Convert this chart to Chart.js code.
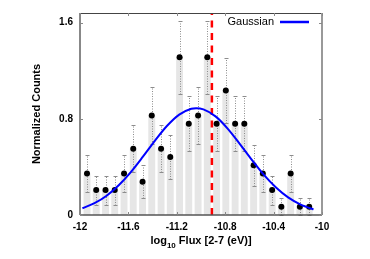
<!DOCTYPE html>
<html><head><meta charset="utf-8">
<script src="https://cdn.jsdelivr.net/npm/chart.js@4/dist/chart.umd.min.js"></script>
<style>html,body{margin:0;padding:0;background:#fff;}#wrap{width:370px;height:259px;}</style>
</head><body><div id="wrap"><canvas id="c" width="370" height="259"></canvas></div>
<script>
// ---- data ----
const binCenters = [-11.942,-11.866,-11.789,-11.713,-11.636,-11.560,-11.483,-11.407,-11.330,-11.254,
  -11.177,-11.101,-11.024,-10.948,-10.871,-10.795,-10.718,-10.642,-10.565,-10.489,
  -10.412,-10.336,-10.259,-10.183,-10.106];
const counts = [0.345,0.207,0.207,0.207,0.345,0.552,0.276,0.828,0.552,0.483,
  1.311,0.759,0.828,1.311,0.759,1.035,0.759,0.759,0.414,0.345,
  0.207,0.069,0.345,0.069,0.069];
const errors = [0.154,0.120,0.120,0.120,0.154,0.195,0.138,0.239,0.195,0.183,
  0.301,0.229,0.239,0.301,0.229,0.267,0.229,0.229,0.169,0.154,
  0.120,0.069,0.154,0.069,0.069];
const fitX = [-11.98,-11.88,-11.78,-11.68,-11.58,-11.48,-11.38,-11.28,-11.18,-11.08,-11.04,
  -10.98,-10.88,-10.78,-10.68,-10.58,-10.48,-10.38,-10.28,-10.18,-10.08,-10.07];
const fitY = [0.056,0.098,0.160,0.247,0.357,0.485,0.619,0.742,0.835,0.884,0.888,
  0.878,0.820,0.719,0.592,0.459,0.333,0.228,0.146,0.088,0.050,0.047];
const refLine = -10.91;
const xTicks = [-12,-11.6,-11.2,-10.8,-10.4,-10];
const xTickLabels = ['-12','-11.6','-11.2','-10.8','-10.4','-10'];
const yTicks = [0,0.8,1.6];
const yTickLabels = ['0','0.8','1.6'];
const fitLabel = 'Gaussian';
const yTitle = 'Normalized Counts';
const xTitleParts = ['log','10',' Flux [2-7 (eV)]'];

const FONT = "'Liberation Sans', Arial, sans-serif";
Chart.defaults.font.family = FONT;

const deco = {
  id: 'deco',
  afterDatasetDraw(chart, args) {
    if (args.index !== 0) return;
    const ctx = chart.ctx, xs = chart.scales.x, ys = chart.scales.y, a = chart.chartArea;
    ctx.save();
    ctx.strokeStyle = '#8c8c8c';
    ctx.lineWidth = 1;
    binCenters.forEach((v, i) => {
      const px = Math.round(xs.getPixelForValue(v)) + 0.5;
      const lo = Math.round(ys.getPixelForValue(Math.max(0, counts[i] - errors[i]))) + 0.5;
      const hi = Math.round(ys.getPixelForValue(counts[i] + errors[i])) + 0.5;
      ctx.setLineDash([1, 1.5]);
      ctx.beginPath(); ctx.moveTo(px, lo); ctx.lineTo(px, hi); ctx.stroke();
      ctx.setLineDash([]);
      ctx.beginPath();
      ctx.moveTo(px - 2, hi); ctx.lineTo(px + 2, hi);
      ctx.moveTo(px - 2, lo); ctx.lineTo(px + 2, lo);
      ctx.stroke();
    });
    const rx = xs.getPixelForValue(refLine);
    ctx.strokeStyle = '#ff0000';
    ctx.lineWidth = 2.5;
    ctx.setLineDash([7, 5.5]);
    ctx.beginPath(); ctx.moveTo(rx, a.bottom); ctx.lineTo(rx, a.top); ctx.stroke();
    ctx.restore();
  },
  afterDraw(chart) {
    const ctx = chart.ctx, xs = chart.scales.x, ys = chart.scales.y, a = chart.chartArea;
    ctx.save();
    ctx.setLineDash([]);
    ctx.strokeStyle = '#444'; ctx.lineWidth = 1;
    ctx.beginPath(); ctx.moveTo(a.left, a.top + 0.5); ctx.lineTo(a.right, a.top + 0.5); ctx.stroke();
    ctx.strokeStyle = '#555'; ctx.lineWidth = 1.5;
    ctx.beginPath(); ctx.moveTo(a.left, a.bottom); ctx.lineTo(a.right, a.bottom); ctx.stroke();
    ctx.strokeStyle = '#888'; ctx.lineWidth = 2;
    ctx.beginPath(); ctx.moveTo(a.left, a.top); ctx.lineTo(a.left, a.bottom); ctx.stroke();
    ctx.strokeStyle = '#999';
    ctx.beginPath(); ctx.moveTo(a.right, a.top); ctx.lineTo(a.right, a.bottom); ctx.stroke();
    ctx.strokeStyle = '#888'; ctx.lineWidth = 1;
    xTicks.forEach(v => {
      const px = Math.round(xs.getPixelForValue(v)) + 0.5;
      ctx.beginPath();
      ctx.moveTo(px, a.bottom); ctx.lineTo(px, a.bottom - 3);
      ctx.moveTo(px, a.top); ctx.lineTo(px, a.top + 3);
      ctx.stroke();
    });
    yTicks.forEach(v => {
      const py = Math.round(ys.getPixelForValue(v)) + 0.5;
      ctx.beginPath();
      ctx.moveTo(a.left, py); ctx.lineTo(a.left + 3, py);
      ctx.moveTo(a.right, py); ctx.lineTo(a.right - 3, py);
      ctx.stroke();
    });
    const big = 'bold 11px ' + FONT, small = 'bold 8px ' + FONT;
    ctx.fillStyle = '#000';
    ctx.textBaseline = 'alphabetic'; ctx.textAlign = 'left';
    ctx.font = big; const w0 = ctx.measureText(xTitleParts[0]).width, w2 = ctx.measureText(xTitleParts[2]).width;
    ctx.font = small; const w1 = ctx.measureText(xTitleParts[1]).width;
    let tx = (a.left + a.right) / 2 - (w0 + w1 + w2) / 2;
    const base = 244;
    ctx.font = big; ctx.fillText(xTitleParts[0], tx, base); tx += w0;
    ctx.font = small; ctx.fillText(xTitleParts[1], tx, base + 3.5); tx += w1;
    ctx.font = big; ctx.fillText(xTitleParts[2], tx, base);
    const ds = chart.data.datasets[2];
    const ly = a.top + 9;
    ctx.font = '11px ' + FONT; ctx.textAlign = 'right'; ctx.textBaseline = 'middle';
    ctx.fillText(ds.label, a.right - 48, ly);
    ctx.strokeStyle = ds.borderColor; ctx.lineWidth = 2.5;
    ctx.beginPath(); ctx.moveTo(a.right - 42, ly); ctx.lineTo(a.right - 13, ly); ctx.stroke();
    ctx.restore();
  }
};

const pts = binCenters.map((x, i) => ({ x, y: counts[i] }));

new Chart(document.getElementById('c'), {
  type: 'bar',
  data: {
    datasets: [
      { type: 'bar', label: 'histogram', data: pts, backgroundColor: '#e6e6e6', borderWidth: 0,
        barPercentage: 0.75, categoryPercentage: 1, order: 3 },
      { type: 'scatter', label: 'data', data: pts, pointRadius: 3, pointBackgroundColor: '#000',
        pointBorderWidth: 0, showLine: false, order: 2 },
      { type: 'line', label: fitLabel, data: fitX.map((x, i) => ({ x, y: fitY[i] })),
        borderColor: '#0000ff', borderWidth: 2, pointRadius: 0, fill: false,
        cubicInterpolationMode: 'monotone', order: 1 }
    ]
  },
  options: {
    responsive: false, animation: false, devicePixelRatio: 1,
    layout: { padding: { top: 10, right: 48, left: 0, bottom: 0 } },
    plugins: { legend: { display: false }, tooltip: { enabled: false } },
    scales: {
      x: {
        type: 'linear', min: -12, max: -10, offset: false,
        grid: { display: false, drawTicks: false }, border: { display: false },
        ticks: { font: { size: 10, weight: 'bold' }, color: '#000', padding: 6, maxRotation: 0,
          autoSkip: false, callback: (v, i) => xTickLabels[i] },
        afterBuildTicks: s => { s.ticks = xTicks.map(v => ({ value: v })); },
        afterFit: s => { s.height = 44; }
      },
      y: {
        min: 0, max: 1.68,
        grid: { display: false, drawTicks: false }, border: { display: false },
        ticks: { font: { size: 10, weight: 'bold' }, color: '#000', padding: 7,
          callback: (v, i) => yTickLabels[i] },
        afterBuildTicks: s => { s.ticks = yTicks.map(v => ({ value: v })); },
        afterFit: s => { s.width = 80; },
        title: { display: true, text: yTitle, color: '#000',
          font: { size: 11, weight: 'bold' }, padding: { top: 30, bottom: 0 } }
      }
    }
  },
  plugins: [deco]
});
</script></body></html>
